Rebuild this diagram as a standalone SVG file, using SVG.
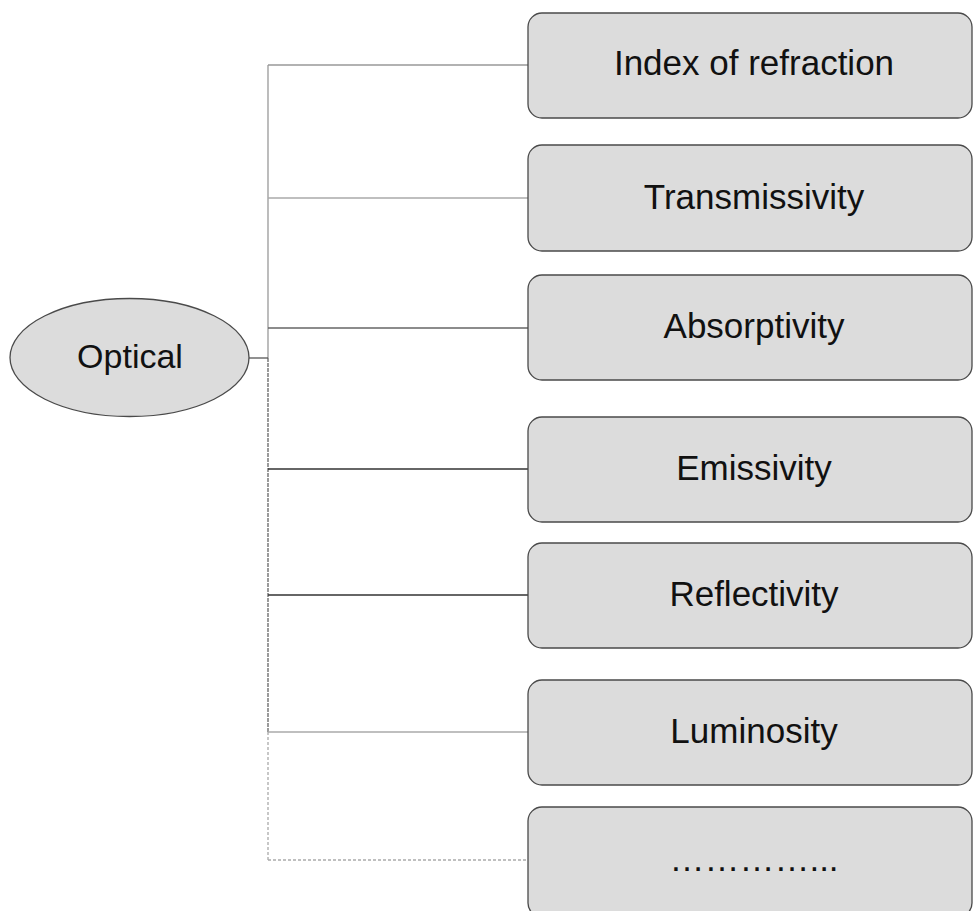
<svg xmlns="http://www.w3.org/2000/svg" width="973" height="911" viewBox="0 0 973 911">
<style>
.box{fill:#dcdcdc;stroke:#4a4a4a;stroke-width:1.3}
.lbl{font-family:"Liberation Sans",Arial,sans-serif;font-size:35px;fill:#111;text-anchor:middle}
.c{fill:none;stroke-width:1.3}
</style>
<rect width="973" height="911" fill="#fff"/>
<g id="connectors">
<line class="c" x1="268" y1="65" x2="268" y2="358" stroke="#999"/>
<line class="c" x1="268" y1="358" x2="268" y2="732" stroke="#666" stroke-dasharray="4 1"/>
<line class="c" x1="268" y1="732" x2="268" y2="860" stroke="#aaa" stroke-dasharray="3 2"/>
<line class="c" x1="249" y1="358" x2="268" y2="358" stroke="#555"/>
<line class="c" x1="268" y1="65" x2="528" y2="65" stroke="#999"/>
<line class="c" x1="268" y1="198" x2="528" y2="198" stroke="#aaa"/>
<line class="c" x1="268" y1="328" x2="528" y2="328" stroke="#666"/>
<line class="c" x1="268" y1="469" x2="528" y2="469" stroke="#333"/>
<line class="c" x1="268" y1="595" x2="528" y2="595" stroke="#333"/>
<line class="c" x1="268" y1="732" x2="528" y2="732" stroke="#aaa"/>
<line class="c" x1="268" y1="860" x2="528" y2="860" stroke="#aaa" stroke-dasharray="3 2"/>
</g>
<g id="optical">
<ellipse class="box" cx="129.5" cy="357.5" rx="119.5" ry="59"/>
<text class="lbl" x="130" y="368" style="font-size:34px">Optical</text>
</g>
<g id="n1"><rect class="box" x="528" y="13" width="444" height="105" rx="14"/><text class="lbl" x="754" y="75">Index of refraction</text></g>
<g id="n2"><rect class="box" x="528" y="145" width="444" height="106" rx="14"/><text class="lbl" x="754" y="209">Transmissivity</text></g>
<g id="n3"><rect class="box" x="528" y="275" width="444" height="105" rx="14"/><text class="lbl" x="754" y="338">Absorptivity</text></g>
<g id="n4"><rect class="box" x="528" y="417" width="444" height="105" rx="14"/><text class="lbl" x="754" y="480">Emissivity</text></g>
<g id="n5"><rect class="box" x="528" y="543" width="444" height="105" rx="14"/><text class="lbl" x="754" y="606">Reflectivity</text></g>
<g id="n6"><rect class="box" x="528" y="680" width="444" height="105" rx="14"/><text class="lbl" x="754" y="743">Luminosity</text></g>
<g id="n7"><rect class="box" x="528" y="807" width="444" height="110" rx="14"/><text class="lbl" x="754" y="871">…………...</text></g>
</svg>
